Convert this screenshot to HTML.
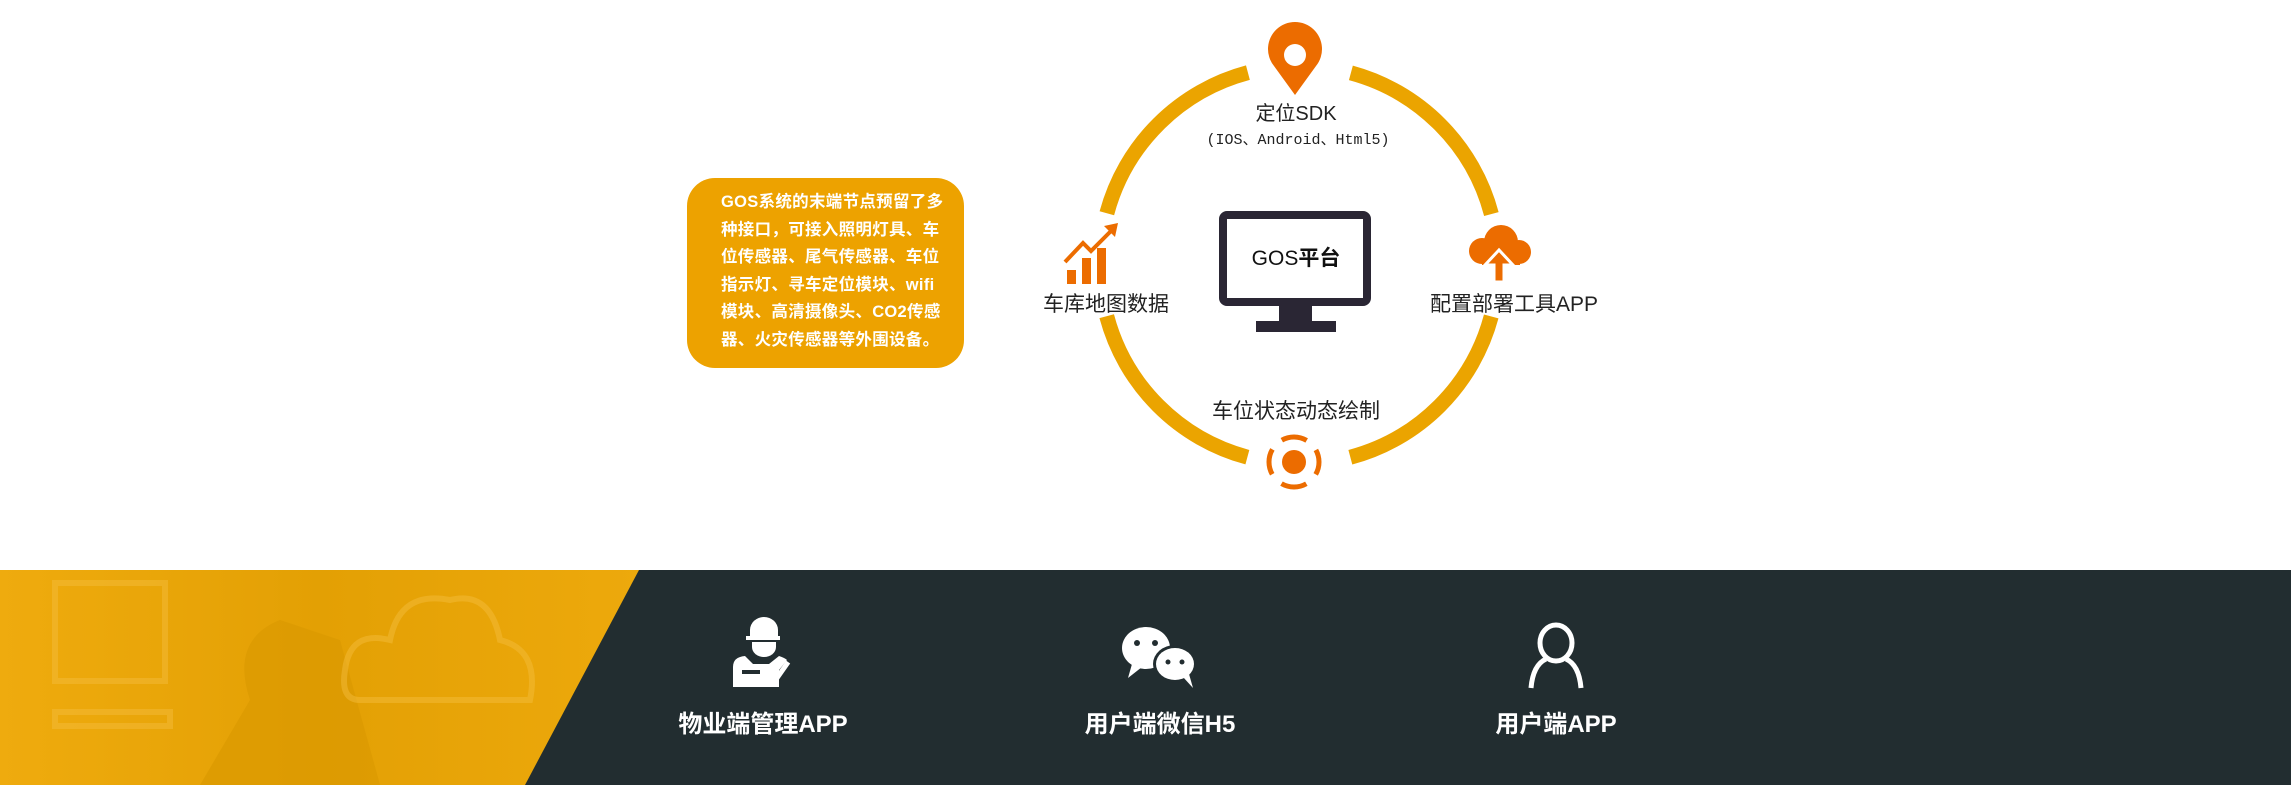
<!DOCTYPE html>
<html><head><meta charset="utf-8"><style>
html,body{margin:0;padding:0;background:#fff;width:2291px;height:785px;overflow:hidden;position:relative;font-family:"Liberation Sans","Noto Sans CJK SC",sans-serif}
.t{position:absolute;white-space:nowrap;transform:translateX(-50%);text-align:center;color:#222}
.box{position:absolute;left:687px;top:178px;width:277px;height:190px;background:#eda200;border-radius:28px;color:#fff;font-weight:bold;font-size:16.5px;line-height:27.5px;box-sizing:border-box;padding:11px 0 0 34px;letter-spacing:0.3px}
.lab{position:absolute;color:#fff;font-weight:bold;font-size:24px;transform:translateX(-50%);white-space:nowrap;top:704px}
</style></head><body>
<svg width="2291" height="785" style="position:absolute;left:0;top:0">
  <circle cx="1299" cy="265" r="199" fill="none" stroke="#eba400" stroke-width="15" stroke-dasharray="208.4 104.2" stroke-dashoffset="260.5"/>
  <path d="M1295 95 L1274 66 A27 27 0 1 1 1316 66 Z" fill="#ec6c00"/>
  <circle cx="1295" cy="55" r="11" fill="#fff"/>
  <rect x="1223" y="215" width="144" height="87" rx="4" fill="#fff" stroke="#2a2634" stroke-width="8"/>
  <rect x="1279" y="303" width="33" height="22" fill="#2a2634"/>
  <rect x="1256" y="321" width="80" height="11" fill="#2a2634"/>
  <g fill="#ec6c00">
    <rect x="1067" y="270" width="9" height="14"/>
    <rect x="1082" y="258" width="9" height="26"/>
    <rect x="1097" y="248" width="9" height="36"/>
    <polyline points="1065,262 1083,243 1091,251 1112,230" fill="none" stroke="#ec6c00" stroke-width="4"/>
    <polygon points="1118,223 1104,226 1115,237"/>
  </g>
  <g fill="#ec6c00">
    <circle cx="1501" cy="242" r="17"/>
    <circle cx="1482" cy="251" r="13"/>
    <circle cx="1519" cy="252" r="12"/>
    <rect x="1482" y="250" width="38" height="15"/>
    <polygon points="1499,250 1485,265 1494,265 1494,282 1504,282 1504,265 1513,265" fill="#ec6c00" stroke="#fff" stroke-width="3"/>
  </g>
  <g fill="none" stroke="#ec6c00" stroke-width="5">
    <circle cx="1294" cy="462" r="25" stroke-dasharray="26 13.3" stroke-dashoffset="13"/>
  </g>
  <circle cx="1294" cy="462" r="12" fill="#ec6c00"/>
  <rect x="0" y="570" width="2291" height="215" fill="#222d30"/>
  <defs><linearGradient id="g" x1="0" y1="0" x2="1" y2="0"><stop offset="0" stop-color="#efab0e"/><stop offset="0.5" stop-color="#e3a004"/><stop offset="1" stop-color="#eda90c"/></linearGradient></defs>
  <polygon points="0,570 639,570 525,785 0,785" fill="url(#g)"/>
  <path d="M250 700 Q230 640 280 620 L340 640 L380 785 L200 785 Z" fill="#d99700" opacity="0.6"/>
  <g fill="none" stroke="#f4bb3a" stroke-width="6" opacity="0.5">
    <rect x="55" y="583" width="110" height="98"/>
    <rect x="55" y="712" width="115" height="14"/>
    <path d="M360 700 Q340 700 345 670 Q350 630 390 640 Q400 590 450 600 Q490 590 500 640 Q540 650 530 700 Z"/>
  </g>
  <g fill="#fff">
    <path d="M750 630 a14 13 0 0 1 28 0 v6 h-28 z"/>
    <rect x="746" y="636" width="34" height="4"/>
    <path d="M752 642 h24 v5 a12 10 0 0 1 -24 0 z"/>
    <path d="M733 687 v-20 q0 -10 12 -11 l8 8 h16 l10 -8 q6 2 8 4 l-8 10 v17 z"/>
    <rect x="780" y="660" width="5" height="20" transform="rotate(35 782 670)"/>
  </g>
  <rect x="742" y="670" width="18" height="4" fill="#222d30"/>
  <g fill="#fff">
    <ellipse cx="1146" cy="648" rx="24" ry="21"/>
    <polygon points="1132,664 1128,678 1142,667"/>
  </g>
  <ellipse cx="1175" cy="664" rx="22" ry="19" fill="#222d30"/>
  <g fill="#fff">
    <ellipse cx="1175" cy="664" rx="19" ry="16"/>
    <polygon points="1183,677 1193,688 1189,674"/>
  </g>
  <g fill="#222d30"><circle cx="1137" cy="643" r="3"/><circle cx="1155" cy="643" r="3"/><circle cx="1168" cy="662" r="2.5"/><circle cx="1182" cy="662" r="2.5"/></g>
  <g fill="none" stroke="#fff" stroke-width="5">
    <ellipse cx="1556" cy="643" rx="16" ry="18"/>
    <path d="M1531 688 Q1533 665 1546 659 M1581 688 Q1579 665 1566 659"/>
  </g>
</svg>
<div class="t" style="left:1296px;top:97px;font-size:20px">定位SDK</div>
<div class="t" style="left:1298px;top:128px;font-size:15px;font-family:'Liberation Mono','Noto Sans CJK SC',monospace">(IOS、Android、Html5)</div>
<div class="t" style="left:1296px;top:242px;font-size:21px;color:#111">GOS<b>平台</b></div>
<div class="t" style="left:1106px;top:288px;font-size:21px">车库地图数据</div>
<div class="t" style="left:1514px;top:288px;font-size:21px">配置部署工具APP</div>
<div class="t" style="left:1296px;top:395px;font-size:21px">车位状态动态绘制</div>
<div class="box">GOS系统的末端节点预留了多<br>种接口，可接入照明灯具、车<br>位传感器、尾气传感器、车位<br>指示灯、寻车定位模块、wifi<br>模块、高清摄像头、CO2传感<br>器、火灾传感器等外围设备。</div>
<div class="lab" style="left:763px">物业端管理APP</div>
<div class="lab" style="left:1160px">用户端微信H5</div>
<div class="lab" style="left:1556px">用户端APP</div>
</body></html>
